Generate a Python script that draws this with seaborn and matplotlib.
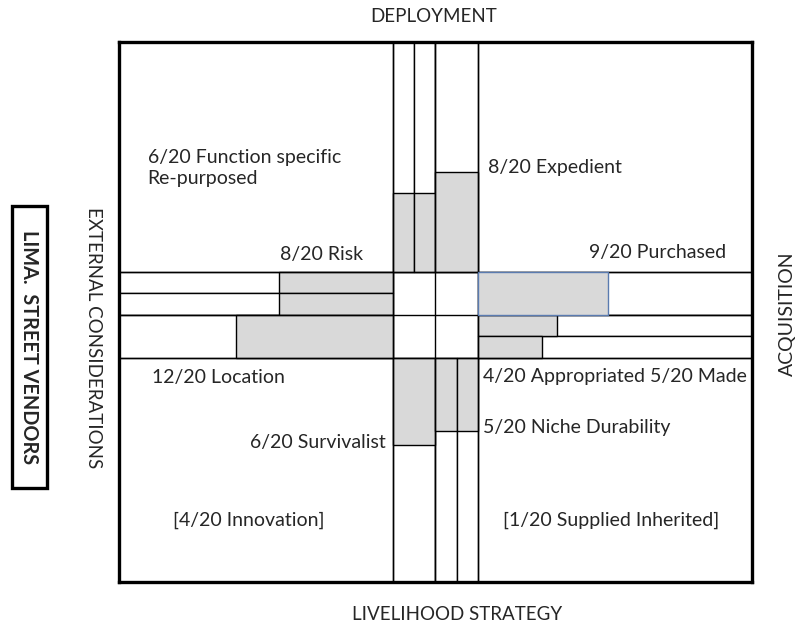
import matplotlib
matplotlib.use('Agg')
import matplotlib.pyplot as plt
import seaborn as sns
from matplotlib.patches import Rectangle


# bar lengths (in twentieths of the arm)
deployment_items = ['Function specific', 'Re-purposed', 'Expedient']
deployment_values = [5.5, 5.5, 7.0]

livelihood_items = ['Survivalist', 'Niche', 'Durability']
livelihood_values = [6.1, 5.1, 5.1]

external_items = ['Risk', 'Risk', 'Location']
external_values = [8.0, 8.0, 11.0]

acquisition_items = ['Purchased', 'Made', 'Appropriated']
acquisition_values = [9.1, 5.5, 4.5]

bar_labels = ['6/20 Function specific\nRe-purposed', '8/20 Expedient', '8/20 Risk',
              '9/20 Purchased', '12/20 Location', '4/20 Appropriated 5/20 Made',
              '6/20 Survivalist', '5/20 Niche Durability',
              '[4/20 Innovation]', '[1/20 Supplied Inherited]']

axis_titles = ['DEPLOYMENT', 'LIVELIHOOD STRATEGY', 'EXTERNAL CONSIDERATIONS', 'ACQUISITION']
side_title = 'LIMA.  STREET VENDORS'


sns.set_theme(style='white')
plt.rcParams['font.family'] = ['Lato', 'DejaVu Sans']

GRAY = '#d9d9d9'
TXT = '#262626'
LW = 1.0

# layout of the cross (center half width, strip widths, arm lengths)
C = 3.0
ARM_X = 19.2
ARM_TOP = 16.1
ARM_BOTTOM = 15.7

fig = plt.figure(figsize=(8.04, 6.35), dpi=100)
ax = fig.add_axes([119 / 804, 1 - 582 / 635, 633 / 804, 540 / 635])

#1. Deployment arm (top)
top_x = [-3.0, -1.5, 0.0]
top_w = [1.5, 1.5, 3.0]
ax.bar(top_x, [ARM_TOP] * 3, width=top_w, bottom=C, align='edge',
       color='white', edgecolor='black', linewidth=LW, zorder=1)
ax.bar(top_x, deployment_values, width=top_w, bottom=C, align='edge',
       color=GRAY, edgecolor='black', linewidth=LW, zorder=2)

#2. Livelihood arm (bottom)
bot_x = [-3.0, 0.0, 1.5]
bot_w = [3.0, 1.5, 1.5]
ax.bar(bot_x, [-ARM_BOTTOM] * 3, width=bot_w, bottom=-C, align='edge',
       color='white', edgecolor='black', linewidth=LW, zorder=1)
ax.bar(bot_x, [-v for v in livelihood_values], width=bot_w, bottom=-C, align='edge',
       color=GRAY, edgecolor='black', linewidth=LW, zorder=2)

#3. External considerations arm (left)
left_y = [1.5, 0.0, -3.0]
left_h = [1.5, 1.5, 3.0]
ax.barh(left_y, [-ARM_X] * 3, height=left_h, left=-C, align='edge',
        color='white', edgecolor='black', linewidth=LW, zorder=1)
ax.barh(left_y, [-v for v in external_values], height=left_h, left=-C, align='edge',
        color=GRAY, edgecolor='black', linewidth=LW, zorder=2)

#4. Acquisition arm (right)
right_y = [0.0, -1.5, -3.0]
right_h = [3.0, 1.5, 1.5]
ax.barh(right_y, [ARM_X] * 3, height=right_h, left=C, align='edge',
        color='white', edgecolor='black', linewidth=LW, zorder=1)
bars = ax.barh(right_y, acquisition_values, height=right_h, left=C, align='edge',
               color=GRAY, edgecolor='black', linewidth=LW, zorder=2)
bars[0].set_edgecolor('#5a7bb0')
bars[0].set_zorder(4)

# center grid
for v in (-C, 0, C):
    ax.axvline(v, color='black', lw=LW, zorder=3)
    ax.axhline(v, color='black', lw=LW, zorder=3)

ax.set_xlim(-C - ARM_X, C + ARM_X)
ax.set_ylim(-C - ARM_BOTTOM, C + ARM_TOP)
ax.set_xticks([])
ax.set_yticks([])
for s in ax.spines.values():
    s.set_color('black')
    s.set_linewidth(2.4)
    s.set_zorder(5)

# labels inside the frame
fs = 14
ax.text(-20.2, 10.3, bar_labels[0], ha='left', va='center', fontsize=fs, color=TXT, linespacing=1.3)
ax.text(3.7, 10.35, bar_labels[1], ha='left', va='center', fontsize=fs, color=TXT)
ax.text(-10.9, 4.2, bar_labels[2], ha='left', va='center', fontsize=fs, color=TXT)
ax.text(20.4, 4.35, bar_labels[3], ha='right', va='center', fontsize=fs, color=TXT)
ax.text(-19.9, -4.35, bar_labels[4], ha='left', va='center', fontsize=fs, color=TXT)
ax.text(3.3, -4.3, bar_labels[5], ha='left', va='center', fontsize=fs, color=TXT)
ax.text(-3.5, -8.95, bar_labels[6], ha='right', va='center', fontsize=fs, color=TXT)
ax.text(3.3, -7.85, bar_labels[7], ha='left', va='center', fontsize=fs, color=TXT)
ax.text(-18.4, -14.4, bar_labels[8], ha='left', va='center', fontsize=fs, color=TXT)
ax.text(4.7, -14.4, bar_labels[9], ha='left', va='center', fontsize=fs, color=TXT)

# titles around the frame
tfs = 13.5
fig.text(434 / 804, 1 - 17 / 635, axis_titles[0], ha='center', va='center', fontsize=tfs, color=TXT)
fig.text(457 / 804, 1 - 614 / 635, axis_titles[1], ha='center', va='center', fontsize=tfs, color=TXT)
fig.text(93 / 804, 1 - 338 / 635, axis_titles[2], ha='center', va='center', fontsize=tfs,
         color=TXT, rotation=-90)
fig.text(787 / 804, 1 - 314 / 635, axis_titles[3], ha='center', va='center', fontsize=14,
         color=TXT, rotation=90)
fig.text(29 / 804, 1 - 347 / 635, side_title, ha='center', va='center', fontsize=14.3,
         fontweight='bold', color=TXT, rotation=-90)
fig.patches.append(Rectangle((12 / 804, 1 - 488 / 635), 35 / 804, 282 / 635,
                             transform=fig.transFigure, fill=False,
                             edgecolor='black', linewidth=2.4))

plt.savefig('out.png', dpi=100)
